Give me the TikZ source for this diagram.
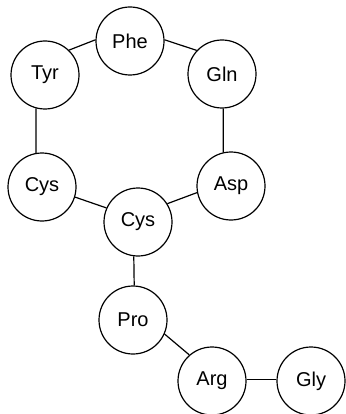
\documentclass[tikz,border=0pt]{standalone}
\usepackage{fontspec}
\setmainfont{Liberation Sans}
\tikzset{every picture/.style={line width=1.2pt}}
\begin{document}
\begin{tikzpicture}[x=1pt,y=1pt,yscale=-1,xscale=1,
	residue/.style={draw,circle,minimum size=68pt,inner sep=0pt,font=\fontsize{20}{24}\selectfont}]
	\useasboundingbox (0,0) rectangle (345,414);
	
	%Shape: Circle [Tyr] 
	\node [residue] (tyr) at (45,75) {Tyr};
	%Shape: Circle [Phe] 
	\node [residue] (phe) at (130,41) {Phe};
	%Shape: Circle [Gln] 
	\node [residue] (gln) at (222,74) {Gln};
	%Shape: Circle [Cys, left] 
	\node [residue] (cysl) at (42,187) {Cys};
	%Shape: Circle [Asp] 
	\node [residue] (asp) at (231,186) {Asp};
	%Shape: Circle [Cys, centre] 
	\node [residue] (cysc) at (138,222) {Cys};
	%Shape: Circle [Pro] 
	\node [residue] (pro) at (133,320) {Pro};
	%Shape: Circle [Arg] 
	\node [residue] (arg) at (212,381) {Arg};
	%Shape: Circle [Gly] 
	\node [residue] (gly) at (311,381) {Gly};
	
	%Straight Lines [ring] 
	\draw    (tyr.46) -- (phe.178) ;
	%Straight Lines [ring] 
	\draw    (phe.2) -- (gln.137) ;
	%Straight Lines [ring] 
	\draw    (tyr.-105) -- (cysl.100) ;
	%Straight Lines [ring] 
	\draw    (gln.-88) -- (asp.103) ;
	%Straight Lines [ring] 
	\draw    (cysl.-17) -- (cysc.156) ;
	%Straight Lines [ring] 
	\draw    (cysc.32) -- (asp.-169) ;
	%Straight Lines [tail] 
	\draw    (cysc.-97) -- (pro.88) ;
	%Straight Lines [tail] 
	\draw    (pro.-24) -- (arg.131) ;
	%Straight Lines [tail] 
	\draw    (arg.3) -- (gly.177) ;
	
\end{tikzpicture}
\end{document}
